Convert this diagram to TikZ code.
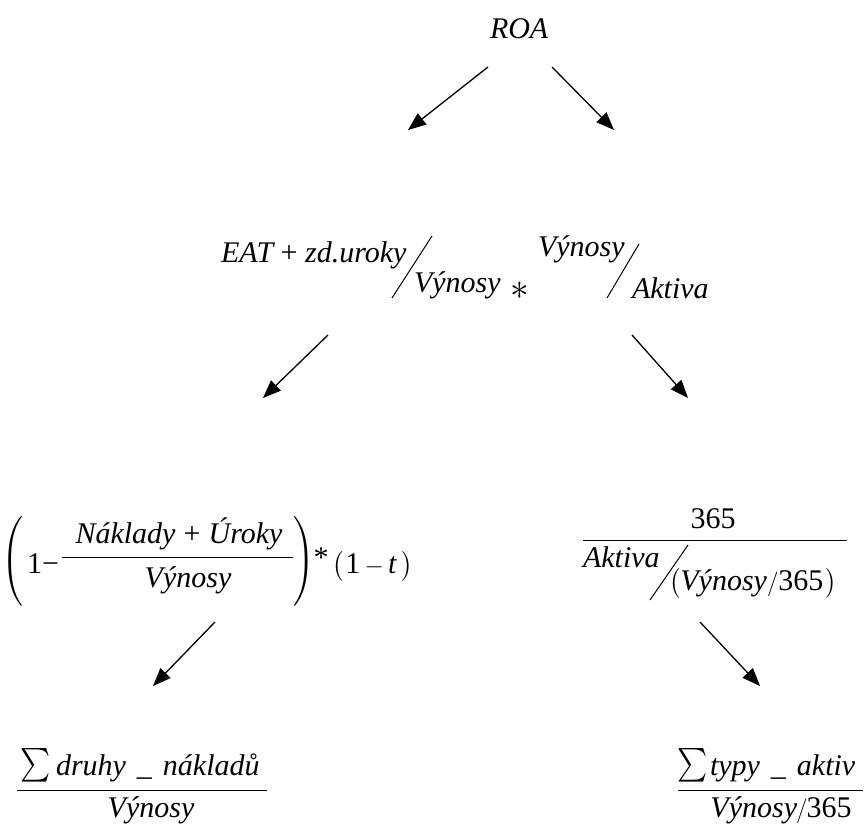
\documentclass[tikz,border=0pt]{standalone}
\usepackage{fontspec}
\setmainfont{Liberation Serif}
\usepackage{amsmath}
\usepackage{graphicx}
\usetikzlibrary{arrows.meta}
\newcommand{\tallparen}[1]{$\left#1\vcenter{\hbox{\rule{0pt}{92pt}}}\right.$}
\begin{document}
\begin{tikzpicture}[x=1pt,y=-1pt,
  txt/.style={inner sep=0pt,outer sep=0pt,font=\fontsize{30}{36}\selectfont\itshape},
  num/.style={inner sep=0pt,outer sep=0pt,font=\fontsize{30}{36}\selectfont\upshape},
  link/.style={line width=1.3pt,-{Triangle[length=18pt,width=14pt]}},
  fracbar/.style={line width=1pt},
  skew/.style={line width=1pt}]
\useasboundingbox[fill=white] (0,0) rectangle (866,829);

% level 1
\node[txt,anchor=base west] (roa) at (490,39) {ROA};

% level 2
\node[txt,anchor=base west] (mAnum) at (221,262) {EAT {\upshape+} zd.uroky};
\node[txt,anchor=base west] (mAden) at (414,292) {Výnosy};
\coordinate (sA1) at (392,298);
\coordinate (sA2) at (432,236);
\draw[skew] (sA1) -- (sA2);
\node[num] (mast) at (520,291) {\scalebox{1.5}{$\ast$}};
\node[txt,anchor=base west] (mBnum) at (538,256) {Výnosy};
\coordinate (sB1) at (607,298);
\coordinate (sB2) at (639,244);
\draw[skew] (sB1) -- (sB2);
\node[txt,anchor=base west] (mBden) at (632,298) {Aktiva};

% level 3 left
\node[num] (lpl) at (13,561) {\tallparen(};
\node[num,anchor=base west] (lone) at (27,573) {1−};
\coordinate (lb1) at (62,557);
\coordinate (lb2) at (293,557);
\draw[fracbar] (lb1) -- (lb2);
\node[txt,anchor=base] (lnum) at (179,543) {Náklady\hspace{0.27em}{\upshape+}\hspace{0.27em}Úroky};
\node[txt,anchor=base] (lden) at (188,587) {Výnosy};
\node[num] (lpr) at (305,561) {\tallparen)};
\node[num] (last) at (321,558) {*};
\node[num,anchor=base west] (lt) at (332,573) {$\bigl($\kern2pt 1$\,-\,$\textit{t}\kern5pt$\bigr)$};

% level 3 right
\node[num,anchor=base] (r365) at (713,528) {365};
\coordinate (rb1) at (583,540);
\coordinate (rb2) at (847,540);
\draw[fracbar] (rb1) -- (rb2);
\node[txt,anchor=base west] (rakt) at (583,567) {Aktiva};
\coordinate (sC1) at (650,600);
\coordinate (sC2) at (688,545);
\draw[skew] (sC1) -- (sC2);
\node[num,anchor=base west] (rden) at (669,590) {$\bigl($\textit{Výnosy}$/$365\kern2pt$\bigr)$};

% level 4 left
\node[num] (lsum) at (36,765) {\scalebox{1.15}[1.35]{$\sum$}};
\node[txt,anchor=base west] (ltxt) at (56,775) {druhy\hspace{11pt}\_\hspace{11pt}nákladů};
\coordinate (lc1) at (17,790);
\coordinate (lc2) at (267,790);
\draw[fracbar] (lc1) -- (lc2);
\node[txt,anchor=base] (lcden) at (151,817) {Výnosy};

% level 4 right
\node[num] (rsum) at (693,765) {\scalebox{1.15}[1.35]{$\sum$}};
\node[txt,anchor=base west] (rtxt) at (710,775) {typy\hspace{11pt}\_\hspace{11pt}aktiv};
\coordinate (rc1) at (678,790);
\coordinate (rc2) at (863,790);
\draw[fracbar] (rc1) -- (rc2);
\node[num,anchor=base] (rcden) at (781,817) {\textit{Výnosy}\kern-1pt$/$\kern-1pt 365};

% connectors
\coordinate (a1s) at (488,67);  \coordinate (a1e) at (408,130);
\coordinate (a2s) at (552,67);  \coordinate (a2e) at (614,130);
\coordinate (a3s) at (328,335); \coordinate (a3e) at (263,398);
\coordinate (a4s) at (632,335); \coordinate (a4e) at (688,398);
\coordinate (a5s) at (215,622); \coordinate (a5e) at (153,686);
\coordinate (a6s) at (700,622); \coordinate (a6e) at (760,686);
\draw[link] (a1s) -- (a1e);
\draw[link] (a2s) -- (a2e);
\draw[link] (a3s) -- (a3e);
\draw[link] (a4s) -- (a4e);
\draw[link] (a5s) -- (a5e);
\draw[link] (a6s) -- (a6e);
\end{tikzpicture}
\end{document}
